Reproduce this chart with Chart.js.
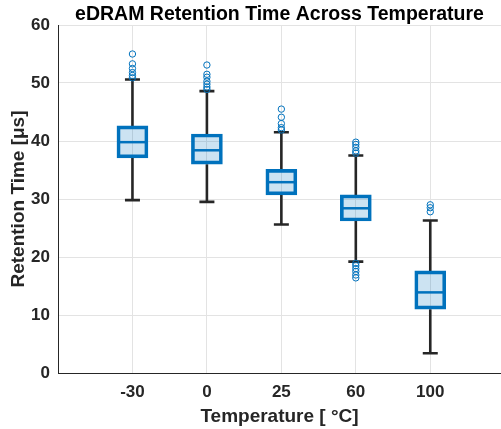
<!DOCTYPE html>
<html>
<head>
<meta charset="utf-8">
<script src="https://cdn.jsdelivr.net/npm/chart.js@4.4.1/dist/chart.umd.min.js"></script>
<style>
  html, body { margin: 0; padding: 0; background: #fff; }
  #wrap { width: 501px; height: 429px; }
</style>
</head>
<body>
<div id="wrap"><canvas id="grafico"></canvas></div>
<script>
// categorias e estatísticas das caixas
const temps = ['-30', '0', '25', '60', '100'];
const q1 = [37.1, 36.0, 30.7, 26.2, 11.0];
const mediana = [39.8, 38.4, 32.9, 28.4, 13.9];
const q3 = [42.6, 41.2, 35.1, 30.7, 17.6];
const bigodeMin = [29.8, 29.5, 25.6, 19.2, 3.4];
const bigodeMax = [50.6, 48.6, 41.5, 37.5, 26.3];

// outliers por temperatura
const outM30 = [55.0, 53.3, 52.5, 51.8, 51.3, 50.9];
const out0 = [53.1, 51.5, 51.0, 50.3, 49.8, 49.3, 48.9];
const out25 = [45.5, 44.1, 43.0, 42.3, 41.9];
const out60 = [39.8, 39.4, 38.9, 38.3, 37.9, 18.9, 18.5, 18.0, 17.5, 16.9, 16.4];
const out100 = [29.0, 28.5, 27.8];
const outliers = [outM30, out0, out25, out60, out100];

const yTicks = [0, 10, 20, 30, 40, 50, 60];

const AZUL = '#0072BD';
const ESCURO = '#262626';
const FONTE = "'Liberation Sans', Arial, Helvetica, sans-serif";

const caixas = temps.map((t, i) => ({ x: i + 1, y: [q1[i], q3[i]] }));
const pontos = [];
outliers.forEach((lista, i) => lista.forEach(v => pontos.push({ x: i + 1, y: v })));

// bigodes, medianas e título desenhados com as escalas do próprio gráfico
const boxPlugin = {
    id: 'boxExtras',
    beforeDatasetsDraw(chart) {
        const { ctx, scales: { x, y } } = chart;
        ctx.save();
        ctx.strokeStyle = ESCURO;
        ctx.lineWidth = 2.6;
        temps.forEach((t, i) => {
            const px = x.getPixelForValue(i + 1);
            ctx.beginPath();
            ctx.moveTo(px, y.getPixelForValue(q3[i]));
            ctx.lineTo(px, y.getPixelForValue(bigodeMax[i]));
            ctx.moveTo(px, y.getPixelForValue(q1[i]));
            ctx.lineTo(px, y.getPixelForValue(bigodeMin[i]));
            ctx.moveTo(px - 7.5, y.getPixelForValue(bigodeMax[i]));
            ctx.lineTo(px + 7.5, y.getPixelForValue(bigodeMax[i]));
            ctx.moveTo(px - 7.5, y.getPixelForValue(bigodeMin[i]));
            ctx.lineTo(px + 7.5, y.getPixelForValue(bigodeMin[i]));
            ctx.stroke();
        });
        ctx.restore();
    },
    afterDatasetsDraw(chart) {
        const { ctx, scales: { x, y } } = chart;
        ctx.save();
        ctx.strokeStyle = AZUL;
        ctx.lineWidth = 2.5;
        temps.forEach((t, i) => {
            const px = x.getPixelForValue(i + 1);
            const py = y.getPixelForValue(mediana[i]);
            ctx.beginPath();
            ctx.moveTo(px - 14.5, py);
            ctx.lineTo(px + 14.5, py);
            ctx.stroke();
        });
        ctx.restore();
    },
    afterDraw(chart) {
        const { ctx, chartArea } = chart;
        ctx.save();
        ctx.fillStyle = '#000';
        ctx.font = 'bold 19.5px ' + FONTE;
        ctx.textAlign = 'center';
        ctx.textBaseline = 'alphabetic';
        ctx.fillText('eDRAM Retention Time Across Temperature', (chartArea.left + chartArea.right) / 2, 20);
        ctx.restore();
    }
};

new Chart(document.getElementById('grafico'), {
    type: 'bar',
    data: {
        datasets: [
            {
                type: 'scatter',
                data: pontos,
                pointStyle: 'circle',
                pointRadius: 3.2,
                borderColor: AZUL,
                borderWidth: 1,
                backgroundColor: 'rgba(0,0,0,0)'
            },
            {
                type: 'bar',
                data: caixas,
                backgroundColor: 'rgba(0,114,189,0.2)',
                borderColor: AZUL,
                borderWidth: 3,
                borderSkipped: false,
                barThickness: 31
            }
        ]
    },
    plugins: [boxPlugin],
    options: {
        responsive: true,
        maintainAspectRatio: false,
        animation: false,
        layout: { autoPadding: false, padding: { top: 25, right: 0, left: 0, bottom: 0 } },
        plugins: {
            legend: { display: false },
            tooltip: { enabled: false },
            title: { display: false }
        },
        scales: {
            x: {
                type: 'linear',
                min: 0,
                max: 5.95,
                offset: false,
                afterBuildTicks: (scale) => {
                    scale.ticks = temps.map((t, i) => ({ value: i + 1 }));
                },
                afterFit: (scale) => { scale.height = 56; },
                ticks: {
                    callback: (v) => temps[v - 1],
                    color: ESCURO,
                    font: { family: FONTE, size: 17, weight: 'bold' },
                    padding: 9,
                    maxRotation: 0
                },
                grid: { color: '#e3e3e3', drawTicks: false, offset: false },
                border: { color: ESCURO, width: 1 },
                title: {
                    display: true,
                    text: 'Temperature [ \u00B0C]',
                    color: ESCURO,
                    font: { family: FONTE, size: 19, weight: 'bold' },
                    padding: { top: 0, bottom: 0.5 }
                }
            },
            y: {
                min: 0,
                max: 60,
                afterBuildTicks: (scale) => {
                    scale.ticks = yTicks.map(v => ({ value: v }));
                },
                afterFit: (scale) => { scale.width = 58; },
                ticks: {
                    color: ESCURO,
                    font: { family: FONTE, size: 17, weight: 'bold' },
                    padding: 8
                },
                grid: { color: '#e3e3e3', drawTicks: false },
                border: { color: ESCURO, width: 1 },
                title: {
                    display: true,
                    text: 'Retention Time [\u03BCs]',
                    color: ESCURO,
                    font: { family: FONTE, size: 19, weight: 'bold' },
                    padding: { top: 7.5, bottom: 1 }
                }
            }
        }
    }
});
</script>
</body>
</html>
